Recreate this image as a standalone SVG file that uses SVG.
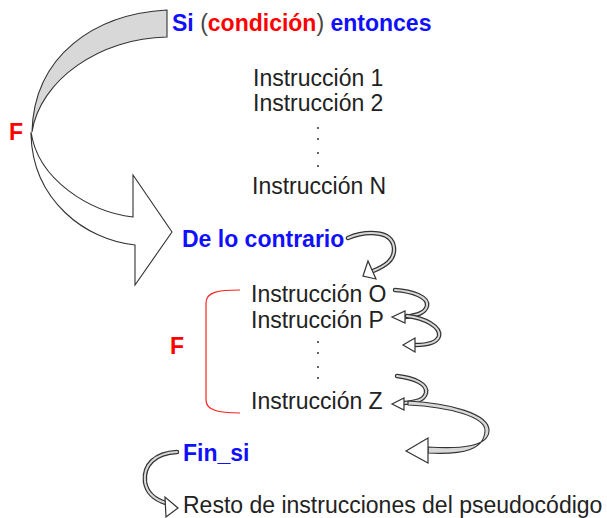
<svg xmlns="http://www.w3.org/2000/svg" width="607" height="518" viewBox="0 0 607 518">
<style>
text{font-family:"Liberation Sans",Arial,sans-serif;font-size:23px;fill:#222}
.b{font-weight:bold}
.blue{fill:#1010ff}
.red{fill:#ff0000}
.gray{fill:#444}
.shO{fill:none;stroke:#333;stroke-width:4.5;stroke-linecap:round}
.shI{fill:none;stroke:#d8d8d8;stroke-width:2;stroke-linecap:round}
.head{fill:#fff;stroke:#333;stroke-width:1.2;stroke-linejoin:miter}
.dot{fill:#333}
</style>
<rect width="607" height="518" fill="#fff"/>
<g id="connectors">
  <g id="big-arrow">
    <path d="M167,10 L167,37 C100,38 40,80 32,132 C34,55 95,14 167,10 Z" fill="#d8d8d8" stroke="#333" stroke-width="1.1"/>
    <path d="M31,132 C38,180 90,212 133,217 L133,175 L172,232 L135,285 L135,245 C85,240 33,200 31,135 Z" fill="#fff" stroke="#333" stroke-width="1.1"/>
  </g>
  <g id="a1">
    <path class="shO" d="M348,238 C362,232 392,228 394,248 C395,260 385,266 373,271"/>
    <path class="shI" d="M348,238 C362,232 392,228 394,248 C395,260 385,266 373,271"/>
    <polygon class="head" points="363,276 368,261 376,279"/>
  </g>
  <g id="a2">
    <path class="shO" d="M395,290 C412,291 429,297 427,306 C425,313 418,315 405,317"/>
    <path class="shI" d="M395,290 C412,291 429,297 427,306 C425,313 418,315 405,317"/>
    <polygon class="head" points="392,317 405,311 405,323"/>
  </g>
  <g id="a3">
    <path class="shO" d="M407,316 C425,318 441,327 439,336 C437,343 428,345 415,345"/>
    <path class="shI" d="M407,316 C425,318 441,327 439,336 C437,343 428,345 415,345"/>
    <polygon class="head" points="403,345 415,338 415,352"/>
  </g>
  <g id="a4">
    <path class="shO" d="M397,376 C414,378 428,384 426,393 C424,400 417,402 404,403"/>
    <path class="shI" d="M397,376 C414,378 428,384 426,393 C424,400 417,402 404,403"/>
    <polygon class="head" points="392,404 404,398 404,410"/>
  </g>
  <g id="a5">
    <path d="M408,401 C450,403 490,414 489,431 C488,447 460,449 428,447 L428,453 C465,455 484,449 485,431 C486,417 450,407 408,405 Z" fill="#d8d8d8" stroke="#333" stroke-width="1.1"/>
    <polygon class="head" points="406,451 428,438 428,463"/>
  </g>
  <g id="a6">
    <path class="shO" d="M177,452 C155,453 143,465 145,482 C147,494 156,500 166,503"/>
    <path class="shI" d="M177,452 C155,453 143,465 145,482 C147,494 156,500 166,503"/>
    <polygon class="head" points="178,508 165,497 166,517"/>
  </g>
  <path id="bracket" d="M240,290 C218,290 206,292 206,303 L206,400 C206,410 218,413 240,413" fill="none" stroke="#ff2020" stroke-width="1.2"/>
</g>
<g id="n-si"><text x="172" y="31" class="b"><tspan class="blue">Si </tspan><tspan class="gray" font-weight="normal">(</tspan><tspan class="red">condición</tspan><tspan class="gray" font-weight="normal">)</tspan><tspan class="blue"> entonces</tspan></text></g>
<g id="n-f1"><text x="9" y="140" class="b red">F</text></g>
<g id="n-i1"><text x="253" y="86">Instrucción 1</text></g>
<g id="n-i2"><text x="253" y="111">Instrucción 2</text></g>
<g id="n-dots1"><circle class="dot" cx="318" cy="128" r="1"/><circle class="dot" cx="318" cy="139" r="1"/><circle class="dot" cx="318" cy="153" r="1"/><circle class="dot" cx="318" cy="166" r="1"/></g>
<g id="n-iN"><text x="252" y="194">Instrucción N</text></g>
<g id="n-contrario"><text x="182" y="247" class="b blue">De lo contrario</text></g>
<g id="n-iO"><text x="251" y="302">Instrucción O</text></g>
<g id="n-iP"><text x="251" y="328">Instrucción P</text></g>
<g id="n-dots2"><circle class="dot" cx="318" cy="342" r="1"/><circle class="dot" cx="318" cy="353" r="1"/><circle class="dot" cx="318" cy="367" r="1"/><circle class="dot" cx="318" cy="378" r="1"/></g>
<g id="n-f2"><text x="170" y="354" class="b red">F</text></g>
<g id="n-iZ"><text x="251" y="409">Instrucción Z</text></g>
<g id="n-finsi"><text x="183" y="461" class="b blue">Fin_si</text></g>
<g id="n-resto"><text x="183" y="513">Resto de instrucciones del pseudocódigo</text></g>
</svg>
